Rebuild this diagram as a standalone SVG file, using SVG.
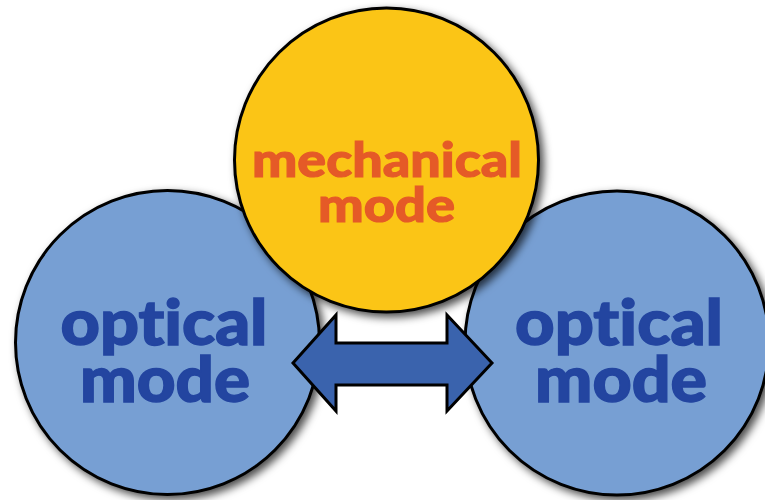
<svg xmlns="http://www.w3.org/2000/svg" width="765" height="500" viewBox="0 0 765 500">
  <defs>
    <filter id="shadow" x="-20%" y="-20%" width="140%" height="140%">
      <feDropShadow dx="4" dy="4" stdDeviation="4" flood-color="#000" flood-opacity="0.7"/>
    </filter>
  </defs>
  <style>
    .mode { stroke: #000; stroke-width: 3; filter: url(#shadow); }
    .optical { fill: #779fd3; }
    .mechanical { fill: #fbc512; }
    .label { font-family: Lato, "Open Sans", "Liberation Sans", sans-serif; font-weight: 900; text-anchor: middle; font-variant-ligatures: none; }
    .opt-text { fill: #2345a0; stroke: #2345a0; stroke-width: 1.4; font-size: 62px; }
    .mech-text { fill: #e55a27; stroke: #e55a27; stroke-width: 1.1; font-size: 47px; }
    .arrow { fill: #3a63ad; stroke: #000; stroke-width: 3; stroke-linejoin: miter; }
  </style>
  <rect width="765" height="500" fill="#fff"/>

  <g id="optical-left">
    <circle class="mode optical" cx="167.5" cy="342.5" r="152"/>
    <text class="label opt-text"><tspan x="164" y="345" textLength="207" lengthAdjust="spacingAndGlyphs">optical</tspan><tspan x="165" y="402" textLength="170" lengthAdjust="spacingAndGlyphs">mode</tspan></text>
  </g>

  <g id="optical-right">
    <circle class="mode optical" cx="617" cy="343" r="152"/>
    <text class="label opt-text"><tspan x="619" y="345" textLength="208" lengthAdjust="spacingAndGlyphs">optical</tspan><tspan x="621" y="402" textLength="172" lengthAdjust="spacingAndGlyphs">mode</tspan></text>
  </g>

  <g id="mechanical">
    <circle class="mode mechanical" cx="386.5" cy="160" r="152"/>
    <text class="label mech-text"><tspan x="387" y="177" textLength="270" lengthAdjust="spacingAndGlyphs">mechanical</tspan><tspan x="386.5" y="222" textLength="137" lengthAdjust="spacingAndGlyphs">mode</tspan></text>
  </g>

  <g id="connectors">
    <path class="arrow" d="M293,363 L336,315 L336,343 L447,343 L447,315 L492,363 L447,411 L447,385 L336,385 L336,411 Z"/>
  </g>
</svg>
